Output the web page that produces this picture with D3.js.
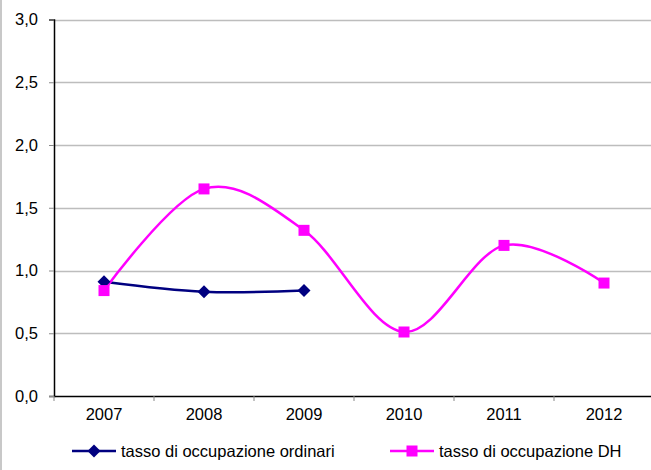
<!DOCTYPE html>
<html><head><meta charset="utf-8">
<script src="https://cdn.jsdelivr.net/npm/d3@7"></script>
<style>body{margin:0;background:#fff}svg{display:block;font-family:"Liberation Sans",Arial,sans-serif}</style>
</head><body>
<svg id="c" width="651" height="470"></svg>
<script>
const years = ["2007","2008","2009","2010","2011","2012"];
const ordinari = [0.91, 0.83, 0.84, null, null, null];
const dh = [0.84, 1.65, 1.32, 0.51, 1.20, 0.90];
const yTicks = [0, 0.5, 1.0, 1.5, 2.0, 2.5, 3.0];
const seriesNames = ["tasso di occupazione ordinari", "tasso di occupazione DH"];
const seriesColors = ["#000080", "#ff00ff"];

const svg = d3.select("#c");
const L = 54, R = 654, T = 19.5, B = 396;
const FS = 16.5;
const x = d3.scaleBand().domain(years).range([L, R]);
const y = d3.scaleLinear().domain([0, 3]).range([B, T]);
const fmt = v => d3.format(".1f")(v).replace(".", ",");

svg.append("line").attr("x1",1).attr("x2",1).attr("y1",0).attr("y2",470).attr("stroke","#c8c8c8").attr("stroke-width",2);

// gridlines
svg.append("g").selectAll("line").data(yTicks.filter(d=>d>0)).join("line")
  .attr("x1", L).attr("x2", 651).attr("y1", d=>Math.round(y(d))+0.5).attr("y2", d=>Math.round(y(d))+0.5)
  .attr("stroke", "#bdbdbd").attr("stroke-width", 1.3);

// y axis
const ya = svg.append("g").attr("transform", `translate(${L},0)`)
  .call(d3.axisLeft(y).tickValues(yTicks).tickFormat(fmt).tickSize(5).tickPadding(11));
ya.select(".domain").attr("stroke","#000").attr("stroke-width",1.5);
ya.selectAll(".tick line").attr("stroke","#888");
ya.selectAll("text").attr("font-size", FS).attr("fill","#000").attr("font-family","Liberation Sans, Arial, sans-serif");

// x axis
const xa = svg.append("g").attr("transform", `translate(0,${B})`)
  .call(d3.axisBottom(x).tickSize(0).tickPadding(12));
xa.select(".domain").attr("stroke","#000").attr("stroke-width",1.5);
xa.selectAll("text").attr("font-size", FS).attr("fill","#000").attr("font-family","Liberation Sans, Arial, sans-serif");
svg.append("g").selectAll("line").data(years).join("line")
  .attr("x1", d=>x(d)).attr("x2", d=>x(d)).attr("y1", B).attr("y2", B+5).attr("stroke","#888");

const line = d3.line().defined(d=>d.v!=null).x(d=>x(d.k)+x.bandwidth()/2).y(d=>y(d.v)).curve(d3.curveCatmullRom.alpha(0));

const s1 = years.map((k,i)=>({k, v: ordinari[i]}));
const s2 = years.map((k,i)=>({k, v: dh[i]}));

svg.append("path").datum(s1).attr("d", line).attr("fill","none").attr("stroke",seriesColors[0]).attr("stroke-width",2.5);
svg.append("path").datum(s2).attr("d", line).attr("fill","none").attr("stroke",seriesColors[1]).attr("stroke-width",2.5);

const dia = (cx, cy) => `M${cx},${cy-6.5}L${cx+6.5},${cy}L${cx},${cy+6.5}L${cx-6.5},${cy}Z`;
svg.append("g").selectAll("path").data(s1.filter(d=>d.v!=null)).join("path")
  .attr("d", d=>dia(x(d.k)+x.bandwidth()/2, y(d.v))).attr("fill",seriesColors[0]);
svg.append("g").selectAll("rect").data(s2).join("rect")
  .attr("x", d=>x(d.k)+x.bandwidth()/2-5.5).attr("y", d=>y(d.v)-5.5).attr("width",11).attr("height",11).attr("fill",seriesColors[1]);

// legend
const lg = [{x:72, name:seriesNames[0], c:seriesColors[0], m:"d"},{x:390, name:seriesNames[1], c:seriesColors[1], m:"s"}];
const ly = 451;
lg.forEach(l=>{
  svg.append("line").attr("x1",l.x).attr("x2",l.x+44).attr("y1",ly).attr("y2",ly).attr("stroke",l.c).attr("stroke-width",2.5);
  if (l.m==="d") svg.append("path").attr("d", dia(l.x+22, ly)).attr("fill",l.c);
  else svg.append("rect").attr("x",l.x+22-5.5).attr("y",ly-5.5).attr("width",11).attr("height",11).attr("fill",l.c);
  svg.append("text").attr("x", l.x+49).attr("y", ly+6).attr("font-size",FS).attr("fill","#000").text(l.name);
});
</script>
</body></html>
